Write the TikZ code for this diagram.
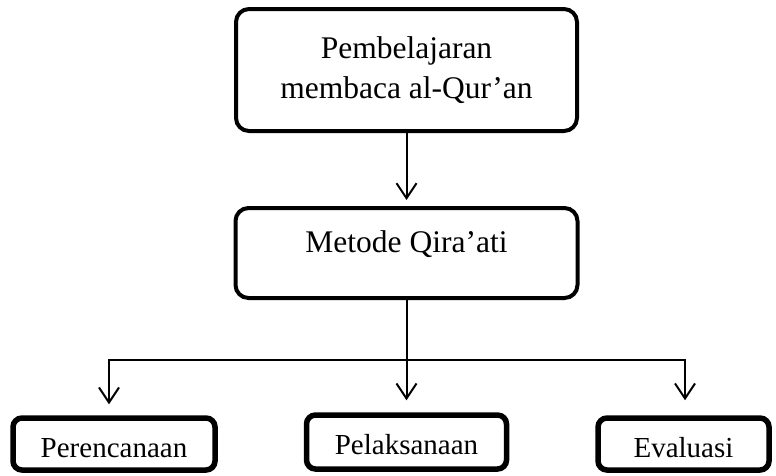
\documentclass[tikz,border=0pt]{standalone}
\usepackage{fontspec}
\setmainfont{Liberation Serif}
\usetikzlibrary{arrows.meta}
\begin{document}
\begin{tikzpicture}[x=1pt,y=-1pt,
  bigbox/.style={draw,line width=4pt,rounded corners=13pt,inner sep=0pt,align=center,
    font=\fontsize{31.5}{40}\selectfont},
  smallbox/.style={draw,line width=5.5pt,rounded corners=9pt,inner sep=0pt,
    font=\fontsize{29}{35}\selectfont},
  conn/.style={line width=2pt,-{Straight Barb[length=15pt,width=20pt]}},
  hline/.style={line width=1.5pt}
  ]
\useasboundingbox (0,0) rectangle (776,475);
\node[bigbox,minimum width=341pt,minimum height=122pt] (top) at (406.5,70)
  {Pembelajaran\\membaca al-Qur’an};
\node[bigbox,minimum width=342pt,minimum height=90pt] (metode) at (406.5,253)
  {\raisebox{9pt}[\height][\depth]{Metode Qira’ati}};
\node[smallbox,minimum width=202pt,minimum height=52pt] (per) at (114,444)
  {\raisebox{-4pt}[\height][\depth]{Perencanaan}};
\node[smallbox,minimum width=200pt,minimum height=54pt] (pel) at (406.5,442)
  {\raisebox{-3pt}[\height][\depth]{Pelaksanaan}};
\node[smallbox,minimum width=171pt,minimum height=52pt] (eva) at (683.5,444)
  {\raisebox{-4pt}[\height][\depth]{Evaluasi}};
\coordinate (hl) at (109,360);
\coordinate (hr) at (685,360);
\draw[conn,shorten >=6pt] (top.south) -- (metode.north);
\draw[conn,shorten >=12pt] (metode.south) -- (metode.south |- pel.north);
\draw[hline] (hl) -- (hr);
\draw[conn,shorten >=11pt] ([yshift=0.75pt]hl) -- (hl |- per.north);
\draw[conn,shorten >=15pt] ([yshift=0.75pt]hr) -- (hr |- eva.north);
\end{tikzpicture}
\end{document}
